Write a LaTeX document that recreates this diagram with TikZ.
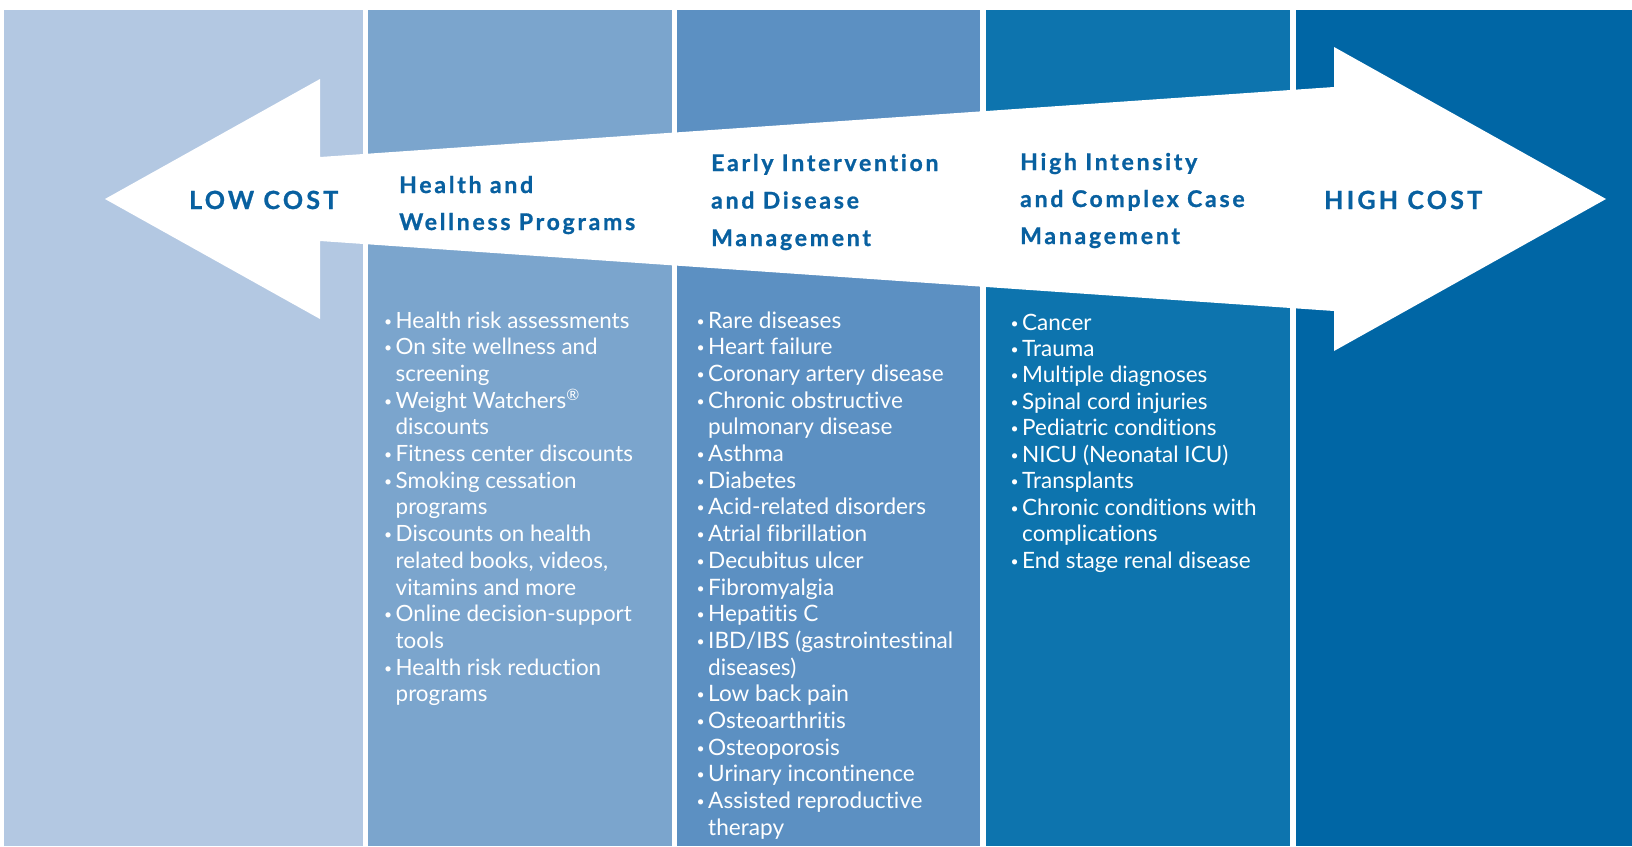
\documentclass[tikz,border=0pt]{standalone}
\usepackage{fontspec}
\setmainfont{Lato}[Ligatures={NoCommon,NoContextual,NoRare}]
\newfontfamily\ttlfont{Lato}[LetterSpace=12,Ligatures={NoCommon,NoContextual,NoRare},BoldFeatures={FakeBold=1}]
\newfontfamily\costfont{Lato}[LetterSpace=13,Ligatures={NoCommon,NoContextual,NoRare},BoldFeatures={FakeBold=1}]
\definecolor{cA}{RGB}{179,200,226}
\definecolor{cB}{RGB}{123,165,205}
\definecolor{cC}{RGB}{92,144,194}
\definecolor{cD}{RGB}{13,116,174}
\definecolor{cE}{RGB}{0,102,165}
\definecolor{ttl}{RGB}{8,96,160}
\newcommand\blt{\makebox[12pt][l]{\hspace{0.5pt}\raisebox{2pt}{\scalebox{0.62}{\textbullet}}}}
\newcommand\cnx{\hspace*{12pt}}
\tikzset{
  title/.style={anchor=base west,inner sep=0pt,text=ttl},
  cost/.style={anchor=base west,inner sep=0pt,text=ttl,font=\costfont\bfseries\fontsize{25}{30}\selectfont},
  lst/.style={anchor=base west,inner sep=0pt,text=white}
}
\begin{document}
\begin{tikzpicture}[x=1pt,y=-1pt]
\useasboundingbox (0,0) rectangle (1632,846);
\fill[white] (0,0) rectangle (1632,846);
% columns
\fill[cA] (4,10) rectangle (363,846);
\fill[cB] (368,10) rectangle (672,846);
\fill[cC] (677,10) rectangle (980,846);
\fill[cD] (986,10) rectangle (1290,846);
\fill[cE] (1296,10) rectangle (1632,846);
% double arrow
\fill[white] (105,199) -- (320,79) -- (320,157) -- (1334,87) -- (1334,47) -- (1606,199)
  -- (1334,351) -- (1334,311) -- (320,241) -- (320,319) -- cycle;
% cost labels
\node[cost] (low) at (189,209) {LOW COST};
\node[cost] (high) at (1324,209) {HIGH COST};
% titles
\node[title] (t2) at (399,193) {\parbox[t]{260pt}{\ttlfont\bfseries\fontsize{23}{37}\selectfont
Health and\\Wellness Programs}};
\node[title] (t3) at (711,171) {\parbox[t]{260pt}{\ttlfont\bfseries\fontsize{23}{37.5}\selectfont
Early Intervention\\and Disease\\Management}};
\node[title] (t4) at (1020,170) {\parbox[t]{260pt}{\ttlfont\bfseries\fontsize{23}{37}\selectfont
High Intensity\\and Complex Case\\Management}};
% lists
\node[lst] (l2) at (383.5,328) {\parbox[t]{290pt}{\fontsize{22.4}{26.7}\selectfont
\blt Health risk assessments\\
\blt On site wellness and\\
\cnx screening\\
\blt Weight Watchers\textsuperscript{\textregistered}\\
\cnx discounts\\
\blt Fitness center discounts\\
\blt Smoking cessation\\
\cnx programs\\
\blt Discounts on health\\
\cnx related books, videos,\\
\cnx vitamins and more\\
\blt Online decision-support\\
\cnx tools\\
\blt Health risk reduction\\
\cnx programs}};
\node[lst] (l3) at (696,328) {\parbox[t]{290pt}{\fontsize{22.6}{26.7}\selectfont
\blt Rare diseases\\
\blt Heart failure\\
\blt Coronary artery disease\\
\blt Chronic obstructive\\
\cnx pulmonary disease\\
\blt Asthma\\
\blt Diabetes\\
\blt Acid-related disorders\\
\blt Atrial fibrillation\\
\blt Decubitus ulcer\\
\blt Fibromyalgia\\
\blt Hepatitis C\\
\blt IBD/IBS (gastrointestinal\\
\cnx diseases)\\
\blt Low back pain\\
\blt Osteoarthritis\\
\blt Osteoporosis\\
\blt Urinary incontinence\\
\blt Assisted reproductive\\
\cnx therapy}};
\node[lst] (l4) at (1010,330) {\parbox[t]{290pt}{\fontsize{22.5}{26.45}\selectfont
\blt Cancer\\
\blt Trauma\\
\blt Multiple diagnoses\\
\blt Spinal cord injuries\\
\blt Pediatric conditions\\
\blt NICU (Neonatal ICU)\\
\blt Transplants\\
\blt Chronic conditions with\\
\cnx complications\\
\blt End stage renal disease}};
\end{tikzpicture}
\end{document}
